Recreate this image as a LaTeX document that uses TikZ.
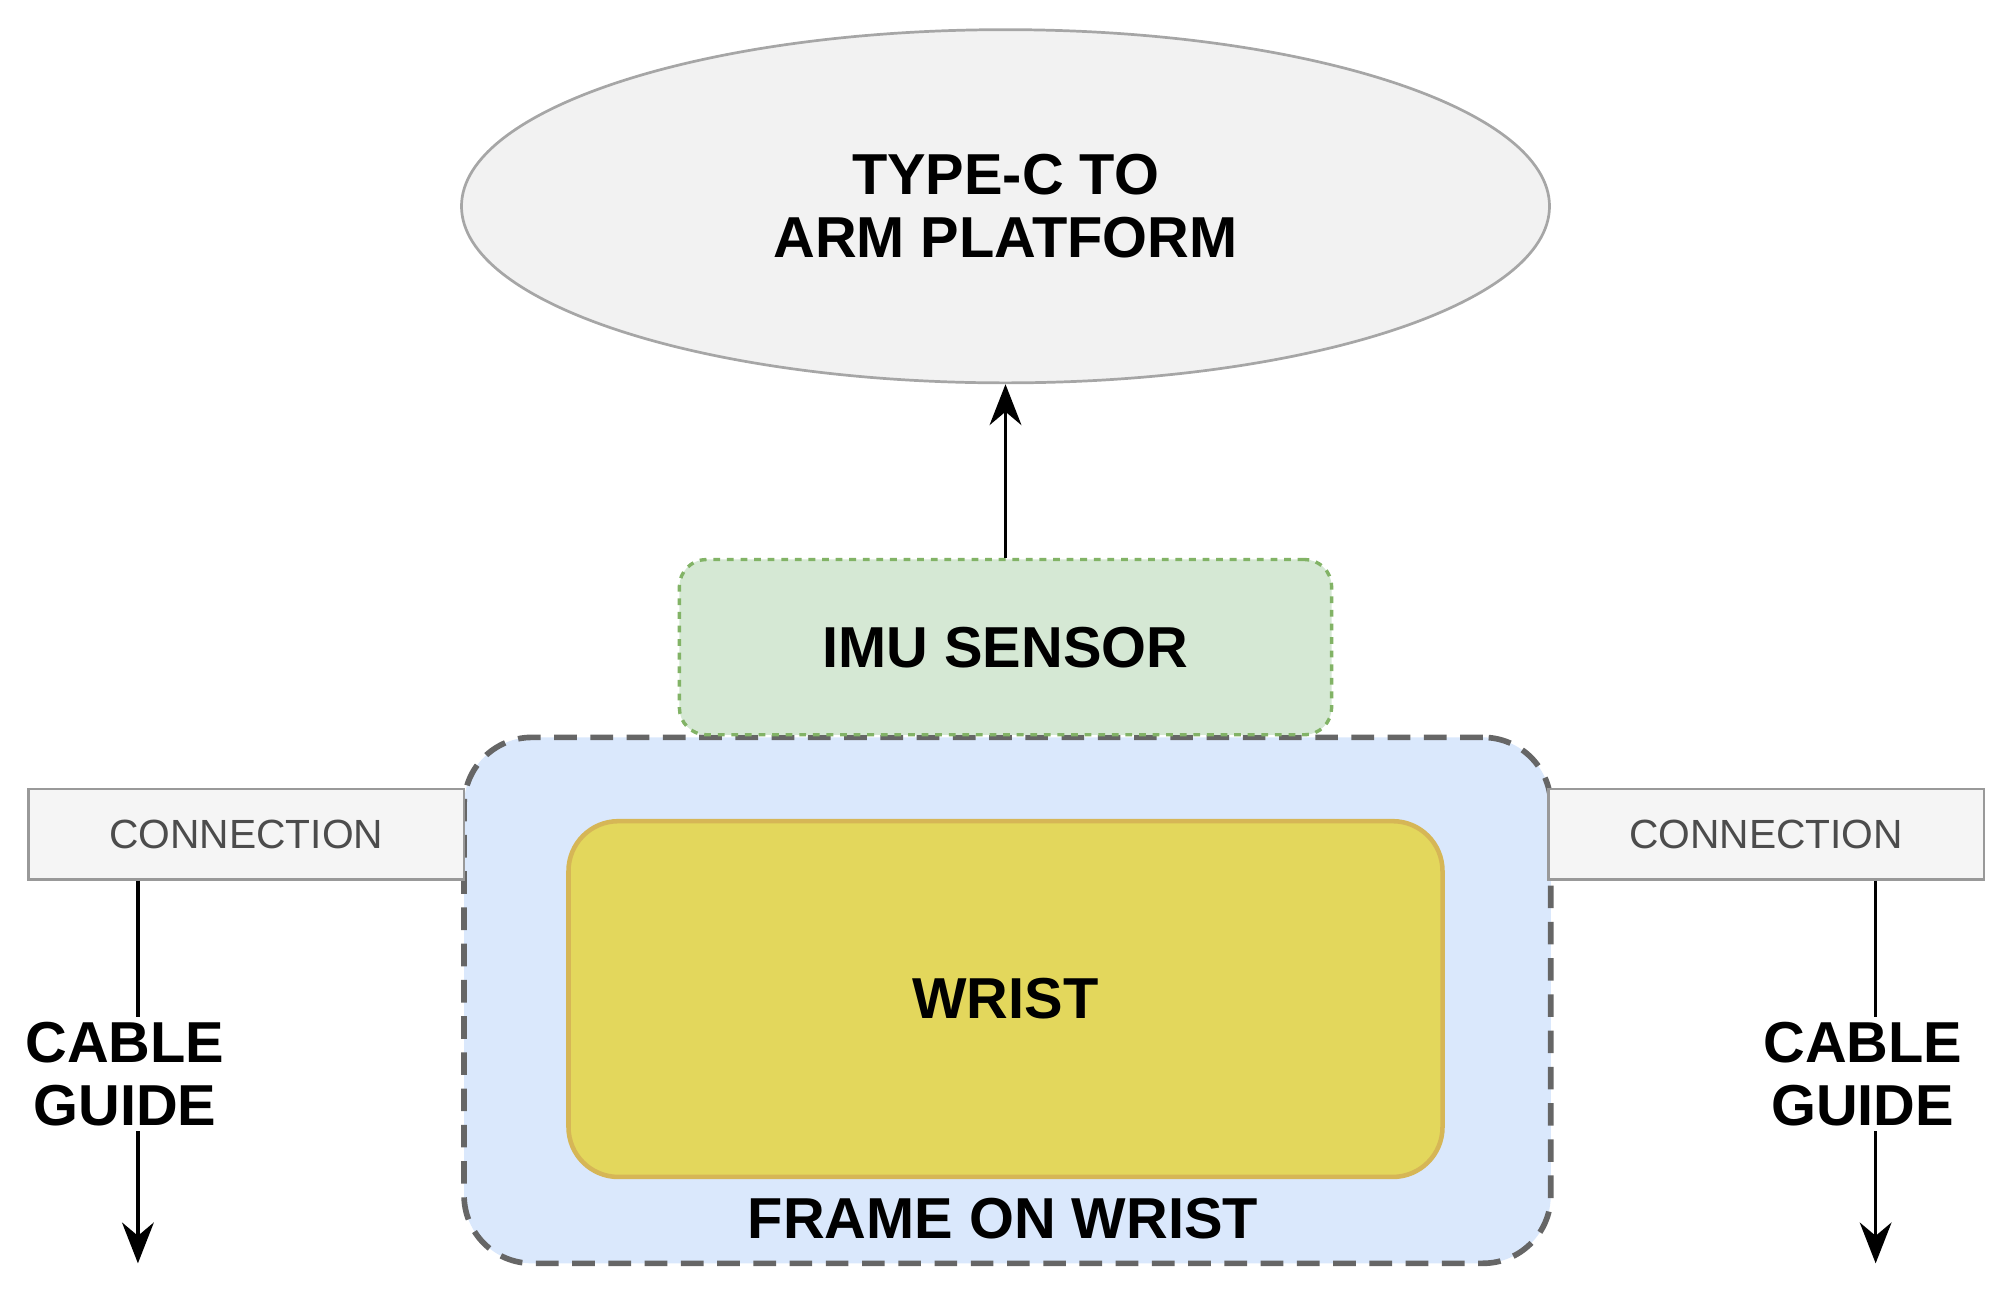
\documentclass[tikz,border=0pt]{standalone}
\usepackage{fontspec}
\setmainfont{Liberation Sans}
\usetikzlibrary{shapes.geometric,arrows.meta}
\definecolor{ellfill}{HTML}{F2F2F2}
\definecolor{imufill}{HTML}{D5E8D4}
\definecolor{imuline}{HTML}{82B366}
\definecolor{framefill}{HTML}{DAE8FC}
\definecolor{wristfill}{HTML}{E3D75C}
\definecolor{wristline}{HTML}{D6B656}
\definecolor{confill}{HTML}{F5F5F5}
\begin{document}
\begin{tikzpicture}[x=0.02cm,y=-0.02cm,
  big/.style={font=\fontsize{25.5}{28}\selectfont\bfseries,align=center},
  con/.style={draw=gray!80,fill=confill,line width=1.2pt,minimum width=338*0.02cm,minimum height=70*0.02cm,font=\fontsize{18}{20}\selectfont,text=black!70},
  arr/.style={-{Stealth[length=18pt,width=14pt]},line width=1.6pt}]
\useasboundingbox (0,0) rectangle (1560,1008);
\node[ellipse,draw=gray!70,fill=ellfill,line width=1.2pt,minimum width=844*0.02cm,minimum height=274*0.02cm,big] (ell) at (780,160) {TYPE-C TO\\ARM PLATFORM};
\node[draw=black!60,dashed,dash pattern=on 10pt off 6pt,fill=framefill,line width=2.5pt,rounded corners=30pt,minimum width=843*0.02cm,minimum height=408*0.02cm] (frame) at (781.5,776) {};
\node[draw=wristline,fill=wristfill,line width=2pt,rounded corners=22pt,minimum width=678*0.02cm,minimum height=276*0.02cm,big] (wrist) at (780,775) {WRIST};
\node[big] (ftxt) at (778,945) {FRAME ON WRIST};
\node[draw=imuline,dashed,fill=imufill,line width=1.5pt,rounded corners=12pt,minimum width=506*0.02cm,minimum height=136*0.02cm,big] (imu) at (780,502) {IMU SENSOR};
\draw[arr] (imu.north) -- (ell.south);
\node[con] (cl) at (191,647) {CONNECTION};
\node[con] (cr) at (1370,647) {CONNECTION};
\coordinate (el) at (107,980);
\coordinate (er) at (1455,980);
\draw[arr] (cl.south -| el) -- (el);
\draw[arr] (cr.south -| er) -- (er);
\node[big,fill=white,inner sep=2pt] (cgl) at (97,833) {CABLE\\GUIDE};
\node[big,fill=white,inner sep=2pt] (cgr) at (1445,833) {CABLE\\GUIDE};
\end{tikzpicture}
\end{document}
